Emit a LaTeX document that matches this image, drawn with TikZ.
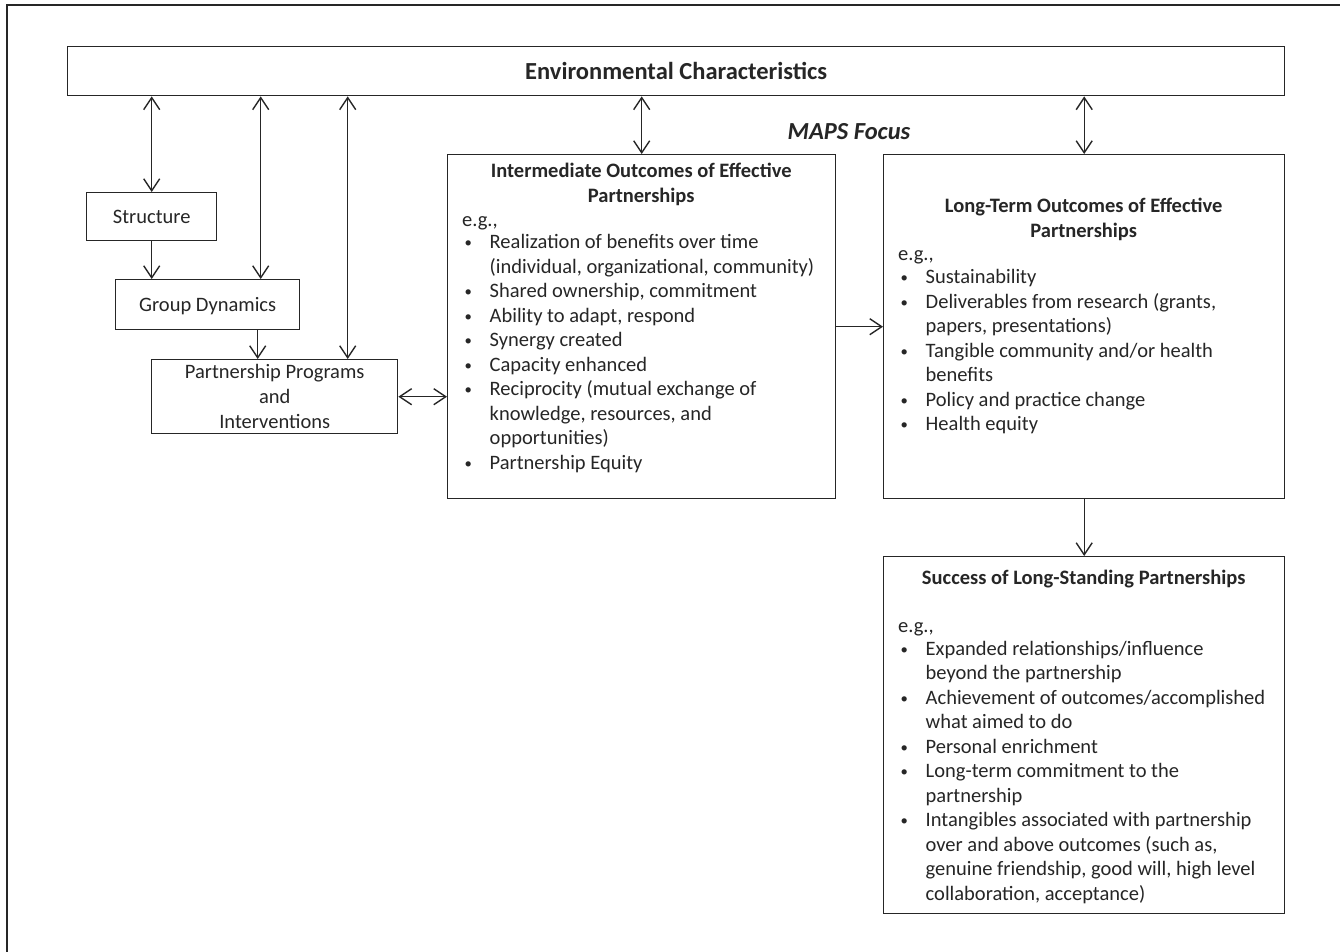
\documentclass[tikz,border=0pt]{standalone}
\usepackage{fontspec}
\setmainfont{Carlito}
\usetikzlibrary{arrows.meta,calc}
\definecolor{ink}{HTML}{262626}
\newcommand\bodyfs{\fontsize{20.5}{24.5}\selectfont}
\newcommand\boxfs{\fontsize{20.5}{25}\selectfont}
\newcommand\bigfs{\fontsize{24.5}{28}\selectfont}
\newcommand\smallbullet{\raisebox{1.2pt}{\scalebox{0.72}{\textbullet}}}
\newcommand\bl[1]{\strut\makebox[27.5pt][l]{\hspace{2.5pt}\smallbullet}#1}
\newcommand\cl[1]{\strut\hspace*{27.5pt}#1}
\begin{document}
\begin{tikzpicture}[x=1pt,y=-1pt,
  box/.style={draw=ink, line width=1.4pt, rectangle, inner sep=0pt, anchor=north west, text=ink},
  txt/.style={inner sep=0pt, anchor=north west, align=left, font=\bodyfs, text=ink},
  arr/.style={draw=ink, line width=1.4pt, -{Straight Barb[length=12pt,width=16pt]}},
  dbl/.style={draw=ink, line width=1.4pt, {Straight Barb[length=12pt,width=16pt]}-{Straight Barb[length=12pt,width=16pt]}}]
\useasboundingbox (0,0) rectangle (1340,951);
\fill[white] (0,0) rectangle (1340,951);
\draw[ink, line width=1.5pt] (7,960) -- (7,5) -- (1350,5);

\node[box, minimum width=1217pt, minimum height=49pt, font=\bigfs\bfseries] (env) at (67,46) {Environmental Characteristics};
\node[box, minimum width=130pt, minimum height=48pt, font=\boxfs] (str) at (86,192) {Structure};
\node[box, minimum width=184pt, minimum height=50pt, font=\boxfs, text depth=0pt] (gd) at (115,279) {Group Dynamics};
\node[box, minimum width=246pt, minimum height=74pt, font=\boxfs, align=center] (ppi) at (151,359) {Partnership Programs\\and\\Interventions};
\node[box, minimum width=388pt, minimum height=344pt] (inter) at (447,154) {};
\node[box, minimum width=401pt, minimum height=344pt] (lt) at (883,154) {};
\node[box, minimum width=401pt, minimum height=357pt] (succ) at (883,556) {};
\node[font=\bigfs\bfseries\itshape, text=ink] (maps) at (849,132) {MAPS Focus};

\node[txt] (intertext) at (462,160.5) {%
\strut\makebox[358pt][c]{\bfseries Intermediate Outcomes of Effective}\\[0.5pt]
\strut\makebox[358pt][c]{\bfseries Partnerships}\\[-0.5pt]
\strut e.g.,\\[-2.5pt]
\bl{Realization of benefits over time}\\
\cl{(individual, organizational, community)}\\
\bl{Shared ownership, commitment}\\
\bl{Ability to adapt, respond}\\
\bl{Synergy created}\\
\bl{Capacity enhanced}\\
\bl{Reciprocity (mutual exchange of}\\
\cl{knowledge, resources, and}\\
\cl{opportunities)}\\
\bl{Partnership Equity}};

\node[txt] (lttext) at (898,195) {%
\strut\makebox[371pt][c]{\bfseries Long-Term Outcomes of Effective}\\[0.5pt]
\strut\makebox[371pt][c]{\bfseries Partnerships}\\[-1pt]
\strut e.g.,\\[-1.5pt]
\bl{Sustainability}\\
\bl{Deliverables from research (grants,}\\
\cl{papers, presentations)}\\
\bl{Tangible community and/or health}\\
\cl{benefits}\\
\bl{Policy and practice change}\\
\bl{Health equity}};

\node[txt] (succtext) at (898,567) {%
\strut\makebox[371pt][c]{\bfseries Success of Long-Standing Partnerships}\\[24pt]
\strut e.g.,\\[-2pt]
\bl{Expanded relationships/influence}\\
\cl{beyond the partnership}\\
\bl{Achievement of outcomes/accomplished}\\
\cl{what aimed to do}\\
\bl{Personal enrichment}\\
\bl{Long-term commitment to the}\\
\cl{partnership}\\
\bl{Intangibles associated with partnership}\\
\cl{over and above outcomes (such as,}\\
\cl{genuine friendship, good will, high level}\\
\cl{collaboration, acceptance)}};

\coordinate (gdT) at ([xshift=53pt]gd.north);
\coordinate (ppiT) at ([xshift=73pt]ppi.north);
\coordinate (gdB) at ([xshift=50pt]gd.south);

\draw[dbl] (str.north |- env.south) -- (str.north);
\draw[dbl] (gdT |- env.south) -- (gdT);
\draw[dbl] (ppiT |- env.south) -- (ppiT);
\draw[arr] (str.south) -- (str.south |- gd.north);
\draw[arr] (gdB) -- (gdB |- ppi.north);
\draw[dbl] (ppi.east) -- (ppi.east -| inter.west);
\draw[dbl] (inter.north |- env.south) -- (inter.north);
\draw[arr] (inter.east) -- (inter.east -| lt.west);
\draw[dbl] (lt.north |- env.south) -- (lt.north);
\draw[arr] (lt.south) -- (succ.north);
\end{tikzpicture}
\end{document}
